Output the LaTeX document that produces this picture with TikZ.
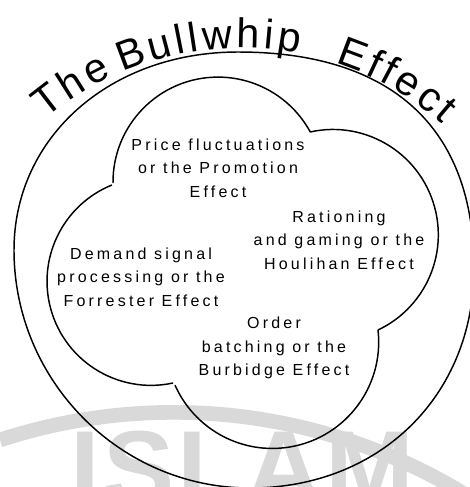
\documentclass[tikz,border=0pt]{standalone}
\usepackage{fontspec}
\setmainfont{Liberation Sans}
\newfontfamily\innerfont[LetterSpace=20]{Liberation Sans}
\newfontfamily\titlefont{Liberation Sans}
\newfontfamily\wmfont[LetterSpace=3]{Liberation Sans Bold}
\usetikzlibrary{decorations.text,calc}
\begin{document}
\begin{tikzpicture}[x=0.75pt,y=0.75pt,
  ink/.style={line width=1.1pt, black},
  txt/.style={font=\innerfont\fontsize{12}{17.6}\selectfont, align=center, inner sep=0pt},
  wmark/.style={color=black!15},
  arcword/.style={decorate, decoration={text along path, text align=fit to path,
    text={|\titlefont\fontsize{31}{31}\selectfont|#1}}}]
\useasboundingbox (0,0) rectangle (470,-487);
\clip (0,0) rectangle (470,-487);
% watermark
\draw[wmark, line width=11pt] (0,-440) arc[start angle=108.1, end angle=50, radius=419pt];
\node[wmark, font=\wmfont\fontsize{80}{80}\selectfont, anchor=north west, inner sep=0pt] (wm) at (70,-431) {ISLAM};
% outer ring
\coordinate (otop) at (238,-52);
\coordinate (oright) at (474,-268);
\coordinate (obot) at (250,-488);
\coordinate (oleft) at (14,-250);
\draw[ink] (otop) .. controls (391.4,-52) and (474,-127.6) .. (oright)
  .. controls (474,-395.6) and (379.9,-488) .. (obot)
  .. controls (120.2,-488) and (14,-380.9) .. (oleft)
  .. controls (14,-137.1) and (110.3,-52) .. (otop) -- cycle;
% cloud lobes
\coordinate (ctop) at (113,-183);
\coordinate (cright) at (310,-132);
\coordinate (cbot) at (378,-330);
\coordinate (cleft) at (173,-383);
\draw[ink] (ctop) arc[start angle=180.5, end angle=28.5, radius=78.75pt];
\draw[ink] (cright) arc[start angle=102.6, end angle=-64.7, radius=79pt];
\draw[ink] (cbot) arc[start angle=6.5, end angle=-156.1, radius=79.8pt];
\draw[ink] (cleft) arc[start angle=282.2, end angle=112.1, radius=78pt];
% title along arc (centre (241,-352), radius 304 px)
\coordinate (tw1) at ($(241,-352)+(130:228pt)$);
\coordinate (tw2) at ($(241,-352)+(113:228pt)$);
\coordinate (tw3) at ($(241,-352)+(72:228pt)$);
\path[arcword=The] (tw1) arc[start angle=130, end angle=115, radius=228pt];
\path[arcword=Bullwhip] (tw2) arc[start angle=113, end angle=79, radius=228pt];
\path[arcword=Effect] (tw3) arc[start angle=72, end angle=48.5, radius=228pt];
% labels
\node[txt] (price) at (218,-168) {Price fluctuations\\or the Promotion\\Effect};
\node[txt] (ration) at (339,-240) {Rationing\\and gaming or the\\Houlihan Effect};
\node[txt] (demand) at (141,-277) {Demand signal\\processing or the\\Forrester Effect};
\node[txt] (order) at (274,-348) {Order\\batching or the\\Burbidge Effect};
\end{tikzpicture}
\end{document}
